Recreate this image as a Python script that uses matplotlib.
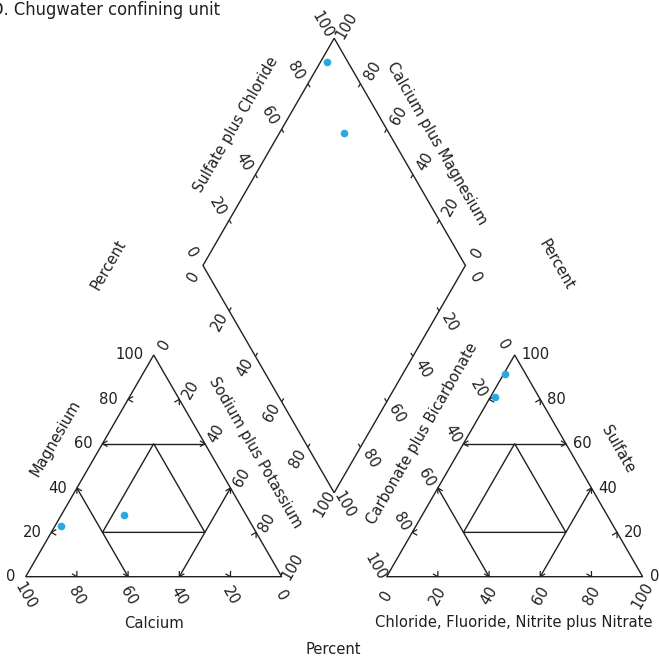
import matplotlib.pyplot as plt
from matplotlib import font_manager as fm
import numpy as np

# percent of total milliequivalents, two samples
calcium = [75.0, 48.0]
magnesium = [23.0, 28.0]
sodium_potassium = [2.5, 24.5]
bicarbonate = [8.0, 17.0]
sulfate = [91.5, 81.0]
chloride = [0.5, 2.0]

tick_values = [0, 20, 40, 60, 80, 100]

title = 'D. Chugwater confining unit'
point_color = '#29a9e0'
line_color = '#231f20'


def narrow_font():
    # any regular narrow / condensed sans face that happens to be installed
    for f in fm.fontManager.ttflist:
        if f.style != 'normal' or f.weight not in (400, 'normal', 'regular'):
            continue
        if f.stretch in ('condensed', 'semi-condensed') or \
                'Narrow' in f.name or 'Condensed' in f.name:
            return fm.FontProperties(fname=f.fname), 11.8
    return fm.FontProperties(family='Roboto'), 10.5


FP, fs = narrow_font()

H = np.sqrt(3) / 2
PX = 256.0          # pixels per triangle side
X_RIGHT = 1.41      # left corner of anion triangle
DC = 1.205          # diamond centre x
DB = 0.328          # diamond bottom y
DS = 1.025          # diamond side

dL = np.array([DC - DS / 2, DB + DS * H])
dB = np.array([DC, DB])
dT = np.array([DC, DB + 2 * DS * H])
dR = np.array([DC + DS / 2, DB + DS * H])


def off(dx, dy):
    return np.array([dx / PX, -dy / PX])


def tri_xy(left, apex, right, x0=0.0):
    tot = left + apex + right
    return np.array([x0 + right / tot + 0.5 * apex / tot, H * apex / tot])


def diamond_xy(f, s):
    return dL + f / 100 * (dB - dL) + s / 100 * (dT - dL)


def line(ax, p, q, lw=1.0):
    ax.plot([p[0], q[0]], [p[1], q[1]], color=line_color, lw=lw,
            solid_capstyle='butt')


def chevron(ax, tip, other, size=0.02, half=np.radians(30)):
    u = (tip - other) / np.linalg.norm(tip - other)
    pts = []
    for a in (half, -half):
        c, s = np.cos(a), np.sin(a)
        back = np.array([-u[0] * c + u[1] * s, -u[0] * s - u[1] * c])
        pts.append(tip + size * back)
    ax.plot([pts[0][0], tip[0], pts[1][0]], [pts[0][1], tip[1], pts[1][1]],
            color=line_color, lw=0.9)


def draw_triangle(ax, x0):
    # ternary order: (left corner, apex, right corner)
    corners = [tri_xy(100, 0, 0, x0), tri_xy(0, 0, 100, x0), tri_xy(0, 100, 0, x0)]
    ax.add_patch(plt.Polygon(corners, closed=True, fill=False,
                             ec=line_color, lw=1.0))
    inner = [tri_xy(20, 60, 20, x0), tri_xy(60, 20, 20, x0), tri_xy(20, 20, 60, x0)]
    ax.add_patch(plt.Polygon(inner, closed=True, fill=False,
                             ec=line_color, lw=1.0))
    for v in (20, 60, 80):
        w = 100 - v
        # apex component: tip on left edge, isoline horizontal
        a_tip, a_end = tri_xy(w, v, 0, x0), tri_xy(0, v, w, x0)
        # left component: tip on bottom edge
        l_tip, l_end = tri_xy(v, 0, w, x0), tri_xy(v, w, 0, x0)
        # right component: tip on right edge
        r_tip, r_end = tri_xy(0, w, v, x0), tri_xy(w, 0, v, x0)
        if v == 60:
            for p, q in ((a_tip, a_end), (l_tip, l_end), (r_tip, r_end)):
                line(ax, p, q)
                chevron(ax, p, q)
                chevron(ax, q, p)
        else:
            chevron(ax, a_tip, a_end)
            chevron(ax, l_tip, l_end)
            chevron(ax, r_tip, r_end)


fig = plt.figure(figsize=(6.59, 6.66), dpi=100)
ax = fig.add_axes([0, 0, 1, 1])
ax.set_xlim(-25.7 / PX, (659 - 25.7) / PX)
ax.set_ylim(-(666 - 576.7) / PX, 576.7 / PX)
ax.axis('off')

draw_triangle(ax, 0.0)
draw_triangle(ax, X_RIGHT)

# diamond outline and ticks
ax.add_patch(plt.Polygon([dL, dB, dR, dT], closed=True, fill=False,
                         ec=line_color, lw=1.0))
for v in (20, 40, 60, 80):
    for p, d in ((dL + v / 100 * (dT - dL), dB - dL),
                 (dR + v / 100 * (dT - dR), dB - dR),
                 (dL + v / 100 * (dB - dL), dT - dL),
                 (dR + v / 100 * (dB - dR), dT - dR)):
        line(ax, p, p + 0.016 * d / np.linalg.norm(d), lw=0.9)

# tick labels
tk = dict(fontproperties=FP, fontsize=fs, color=line_color,
          ha='center', va='center')
for v in tick_values:
    w = 100 - v
    lab = str(v)
    # cation triangle
    ax.text(*(tri_xy(w, v, 0) + off(-10, 0)), lab, **{**tk, 'ha': 'right'})
    ax.text(*(tri_xy(v, 0, w) + off(0, 19)), lab, rotation=-60, **tk)
    ax.text(*(tri_xy(0, w, v) + off(11, -10)), lab, rotation=60, **tk)
    # anion triangle
    ax.text(*(tri_xy(0, v, w, X_RIGHT) + off(7, 0)), lab, **{**tk, 'ha': 'left'})
    ax.text(*(tri_xy(v, w, 0, X_RIGHT) + off(-11, -10)), lab, rotation=-60, **tk)
    ax.text(*(tri_xy(w, 0, v, X_RIGHT) + off(0, 19)), lab, rotation=60, **tk)
    # diamond
    ax.text(*(dL + v / 100 * (dT - dL) + off(-12, -13)), lab, rotation=-60, **tk)
    ax.text(*(dR + v / 100 * (dT - dR) + off(12, -13)), lab, rotation=60, **tk)
    ax.text(*(dL + v / 100 * (dB - dL) + off(-10, 11)), lab, rotation=60, **tk)
    ax.text(*(dR + v / 100 * (dB - dR) + off(10, 12)), lab, rotation=-60, **tk)


# axis titles, placed in pixel terms
def px_text(x, y, s, rot=0):
    ax.text((x - 25.7) / PX, (576.7 - y) / PX, s, rotation=rot,
            rotation_mode='anchor', **tk)


px_text(55, 438, 'Magnesium', 60)
px_text(154, 623, 'Calcium')
px_text(255, 453, 'Sodium plus Potassium', -60)
px_text(236, 125, 'Sulfate plus Chloride', 60)
px_text(437, 143, 'Calcium plus Magnesium', -60)
px_text(422, 434, 'Carbonate plus Bicarbonate', 60)
px_text(618, 449, 'Sulfate', -60)
px_text(514, 623, 'Chloride, Fluoride, Nitrite plus Nitrate')
px_text(108, 265, 'Percent', 60)
px_text(556, 265, 'Percent', -60)
px_text(333, 650, 'Percent')

fig.text(-9 / 659, 1 - 10 / 666, title, fontproperties=FP, fontsize=fs + 1.3,
         color=line_color, ha='left', va='center')

# samples
for ca, mg, na, hc, so, cl in zip(calcium, magnesium, sodium_potassium,
                                  bicarbonate, sulfate, chloride):
    pc = tri_xy(ca, mg, na)
    pa = tri_xy(hc, so, cl, X_RIGHT)
    pd = diamond_xy(na, so + cl)
    for p in (pc, pa, pd):
        ax.plot(p[0], p[1], 'o', color=point_color, ms=5.5, mec='none',
                zorder=5)

fig.savefig('out.png', dpi=100)
